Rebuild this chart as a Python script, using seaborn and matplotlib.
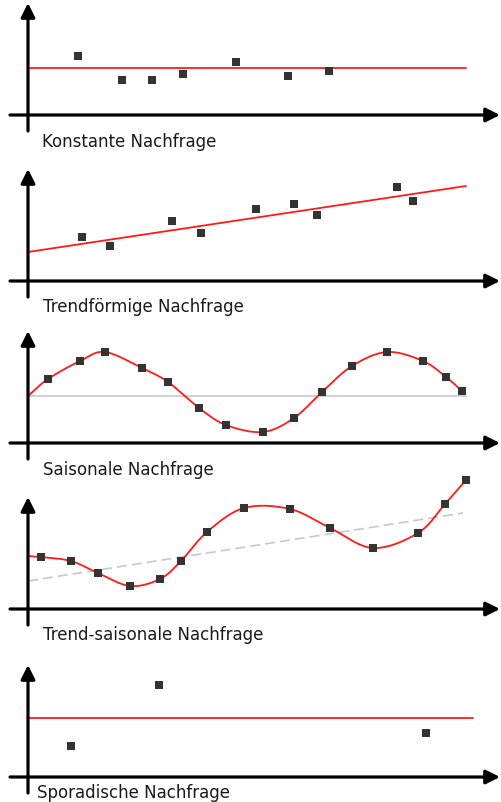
import numpy as np
import pandas as pd
import matplotlib
matplotlib.use("Agg")
import matplotlib.pyplot as plt
import seaborn as sns

# ---- data (x = time position, y = demand level) ----
titles = ["Konstante Nachfrage", "Trendförmige Nachfrage", "Saisonale Nachfrage",
          "Trend-saisonale Nachfrage", "Sporadische Nachfrage"]

const_x = [50, 94, 124, 155, 208, 260, 301]
const_y = [59, 35, 35, 41, 53, 39, 44]
const_level = 47

trend_x = [54, 82, 144, 173, 228, 266, 289, 369, 385]
trend_y = [44, 35, 60, 48, 72, 77, 66, 94, 80]
trend_line_x = [0, 438]
trend_line_y = [29, 95]

season_x = [20, 52, 77, 114, 140, 171, 198, 235, 266, 294, 324, 359, 395, 418, 434]
season_y = [64, 82, 91, 75, 61, 35, 18, 11, 25, 51, 77, 91, 82, 66, 52]
season_start = (0, 47)
season_base = 47

ts_x = [13, 43, 70, 102, 132, 153, 179, 216, 262, 302, 345, 390, 417, 438]
ts_y = [52, 48, 36, 23, 30, 48, 77, 101, 100, 81, 61, 76, 105, 129]
ts_start = (0, 53)
ts_trend_x = [0, 435]
ts_trend_y = [28, 96]

spor_x = [43, 131, 398]
spor_y = [31, 92, 44]
spor_level = 59
line_end = [438, 438, 438, 435, 445]


def catmull_rom(xs, ys, n=24):
    P = np.column_stack([xs, ys]).astype(float)
    P = np.vstack([P[0] - (P[1] - P[0]), P, P[-1] + (P[-1] - P[-2])])
    out = []
    for i in range(1, len(P) - 2):
        p0, p1, p2, p3 = P[i - 1], P[i], P[i + 1], P[i + 2]
        t = np.linspace(0, 1, n, endpoint=False)[:, None]
        pts = 0.5 * ((2 * p1) + (-p0 + p2) * t + (2 * p0 - 5 * p1 + 4 * p2 - p3) * t ** 2
                     + (-p0 + 3 * p1 - 3 * p2 + p3) * t ** 3)
        out.append(pts)
    out.append(P[-2][None, :])
    out = np.vstack(out)
    return out[:, 0], out[:, 1]


sns.set_style("white")
W, H = 501, 803
fig = plt.figure(figsize=(W / 100, H / 100), dpi=100)
fig.patch.set_facecolor("white")

# (band top, band bottom, x-axis row) in pixel rows
bands = [(0, 160, 116), (160, 320, 282), (320, 470, 444), (470, 650, 610), (650, 803, 778)]
label_pos = [(14, -31), (15, -30), (15, -31), (15, -30), (9, -20)]

MARK = dict(marker="s", s=36, color="#333333", edgecolor="none", zorder=5, legend=False)
RED = "#ff1a1a"
GRAY = "#c8c8c8"

axes = []
for (top, bot, ya) in bands:
    ax = fig.add_axes([0, 1 - bot / H, 1, (bot - top) / H])
    ax.set_xlim(-28, W - 28)
    ax.set_ylim(ya - bot, ya - top)
    ax.set_axis_off()
    arrow = dict(arrowstyle="-|>", lw=2.3, color="black", mutation_scale=21,
                 shrinkA=0, shrinkB=0)
    ax.annotate("", xy=(W - 29, 0), xytext=(-18, 0), arrowprops=arrow, annotation_clip=False)
    ax.annotate("", xy=(0, 112), xytext=(0, -16), arrowprops=arrow, annotation_clip=False)
    axes.append(ax)

# Panel 1: constant
ax = axes[0]
sns.lineplot(x=[0, line_end[0]], y=[const_level, const_level], color=RED, lw=1.3, ax=ax)
sns.scatterplot(x=const_x, y=const_y, ax=ax, **MARK)

# Panel 2: trend
ax = axes[1]
sns.lineplot(x=trend_line_x, y=trend_line_y, color=RED, lw=1.3, ax=ax)
sns.scatterplot(x=trend_x, y=trend_y, ax=ax, **MARK)

# Panel 3: seasonal
ax = axes[2]
sns.lineplot(x=[0, line_end[2]], y=[season_base, season_base], color=GRAY, lw=1.2, ax=ax)
cx, cy = catmull_rom([season_start[0]] + season_x, [season_start[1]] + season_y)
sns.lineplot(x=cx, y=cy, color=RED, lw=1.3, sort=False, estimator=None, ax=ax)
sns.scatterplot(x=season_x, y=season_y, ax=ax, **MARK)

# Panel 4: trend-seasonal
ax = axes[3]
sns.lineplot(x=ts_trend_x, y=ts_trend_y, color=GRAY, lw=1.2, ax=ax, dashes=False)
ax.lines[-1].set_dashes([6, 3])
cx, cy = catmull_rom([ts_start[0]] + ts_x, [ts_start[1]] + ts_y)
sns.lineplot(x=cx, y=cy, color=RED, lw=1.3, sort=False, estimator=None, ax=ax)
sns.scatterplot(x=ts_x, y=ts_y, ax=ax, **MARK)
for c in ax.collections:
    c.set_clip_on(False)

# Panel 5: sporadic
ax = axes[4]
sns.lineplot(x=[0, line_end[4]], y=[spor_level, spor_level], color=RED, lw=1.3, ax=ax)
sns.scatterplot(x=spor_x, y=spor_y, ax=ax, **MARK)

for ax, t, (lx, ly) in zip(axes, titles, label_pos):
    ax.text(lx, ly, t, fontsize=12, family="DejaVu Sans", color="#1a1a1a",
            va="baseline", ha="left", clip_on=False)
    for ln in ax.lines:
        ln.set_clip_on(False)

fig.savefig("out.png", dpi=100)
